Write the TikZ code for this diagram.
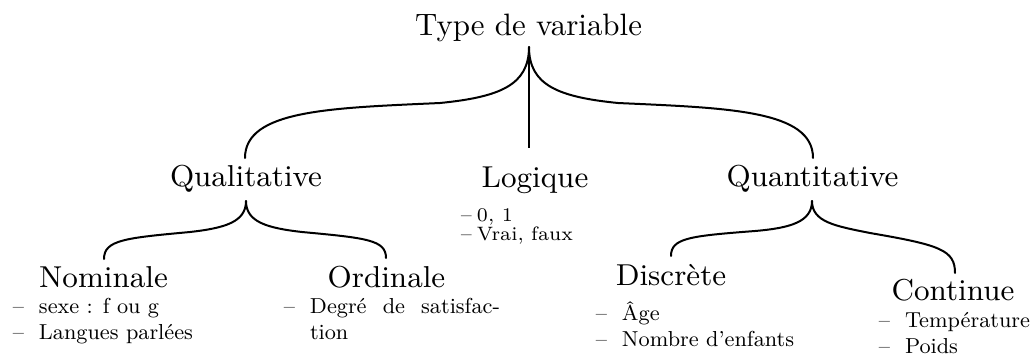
\documentclass[tikz,border=0pt]{standalone}
\newlength\mwid
\newcommand\itm[2]{\llap{\textendash\hspace{#1}}#2}
\AtBeginDocument{%
  \settowidth\mwid{\normalsize Type de variable}\pgfmathsetmacro\tsc{227/\mwid}%
  \settowidth\mwid{\small Qualitative}\pgfmathsetmacro\hsc{152/\mwid}%
  \settowidth\mwid{\small Langues parlées}\pgfmathsetmacro\isc{154/\mwid}%
  \settowidth\mwid{\scriptsize Vrai, faux}\pgfmathsetmacro\lsc{96/\mwid}%
  \pgfmathsetmacro\ow{190/\isc}%
  \pgfmathsetmacro\gap{15/\isc}%
  \pgfmathsetmacro\lgap{5/\lsc}}
\begin{document}
\begin{tikzpicture}[x=1pt,y=-1pt,
  brace/.style={line width=2pt, line cap=round},
  stem/.style={line width=2.6pt},
  txt/.style={inner sep=0pt, outer sep=0pt, anchor=base},
  title/.style={txt, scale=\tsc, font=\normalsize},
  head/.style={txt, scale=\hsc, font=\small},
  item/.style={inner sep=0pt, outer sep=0pt, anchor=base west, scale=\isc, font=\small},
  smallitem/.style={inner sep=0pt, outer sep=0pt, anchor=base west, scale=\lsc, font=\scriptsize}]
\useasboundingbox[fill=white] (0,0) rectangle (1033,357);
% headings
\node[title] (root) at (528.5,35) {Type de variable};
\node[head] (qual) at (246,186) {Qualitative};
\node[head] (logi) at (535,187) {Logique};
\node[head] (quan) at (812.5,186) {Quantitative};
\node[head] (nomi) at (103.5,287) {Nominale};
\node[head] (ordi) at (386.5,287) {Ordinale};
\node[head] (disc) at (671,285) {Discrète};
\node[head] (cont) at (953,300) {Continue};
% items
\node[item] (n1) at (39,313) {\itm{\gap pt}{sexe : f ou g}};
\node[item] (n2) at (39,339) {\itm{\gap pt}{Langues parlées}};
\node[item] (o1) at (310,313) {\itm{\gap pt}{\hbox to \ow pt{Degré\hfill de\hfill satisfac-}}};
\node[item] (o2) at (310,339) {tion};
\node[smallitem] (l1) at (477,221) {\itm{\lgap pt}{0, 1}};
\node[smallitem] (l2) at (477,240) {\itm{\lgap pt}{Vrai, faux}};
\node[item] (d1) at (622,320) {\itm{\gap pt}{Âge}};
\node[item] (d2) at (622,346) {\itm{\gap pt}{Nombre d’enfants}};
\node[item] (k1) at (905,327) {\itm{\gap pt}{Température}};
\node[item] (k2) at (905,353) {\itm{\gap pt}{Poids}};
% brace coordinates
\coordinate (t0) at (529,47);
\coordinate (t1) at (529,148);
\coordinate (a1) at (440,103);
\coordinate (a2) at (618,103);
\coordinate (e1) at (245,158);
\coordinate (e2) at (813,158);
\coordinate (q0) at (246,201);
\coordinate (b1) at (190,232);
\coordinate (f1) at (104,259);
\coordinate (b2) at (302,232);
\coordinate (f2) at (386,258);
\coordinate (r0) at (812,201);
\coordinate (g1) at (755,231);
\coordinate (h1) at (671,256);
\coordinate (g2) at (870,233);
\coordinate (h2) at (955,273);
% top brace
\draw[stem] (t0) -- (t1);
\draw[brace] (t0) .. controls +(0,38) and +(60,-6) .. (a1) .. controls +(-110,5) and +(0,-48) .. (e1);
\draw[brace] (t0) .. controls +(0,38) and +(-60,-6) .. (a2) .. controls +(110,5) and +(0,-48) .. (e2);
% qualitative brace
\draw[brace] (q0) .. controls +(0,21) and +(35,-4) .. (b1) .. controls +(-65,6) and +(0,-19) .. (f1);
\draw[brace] (q0) .. controls +(0,21) and +(-35,-4) .. (b2) .. controls +(65,6) and +(0,-18) .. (f2);
% quantitative brace
\draw[brace] (r0) .. controls +(0,21) and +(35,-3) .. (g1) .. controls +(-65,5) and +(0,-18) .. (h1);
\draw[brace] (r0) .. controls +(0,21) and +(-35,-7) .. (g2) .. controls +(70,12) and +(0,-23) .. (h2);
\end{tikzpicture}
\end{document}
